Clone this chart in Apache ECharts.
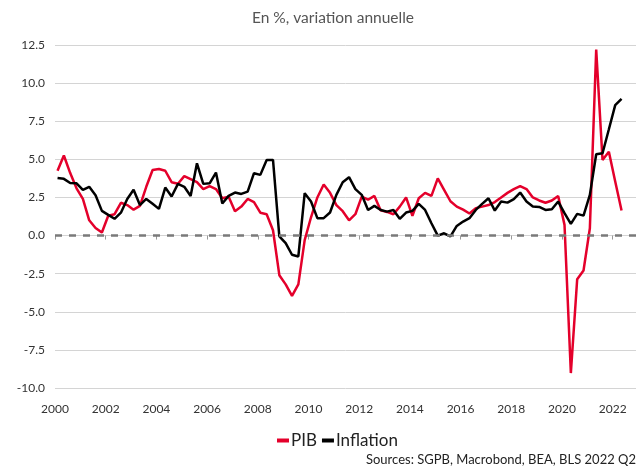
<!DOCTYPE html>
<html><head><meta charset="utf-8">
<script src="https://cdn.jsdelivr.net/npm/echarts@6/dist/echarts.min.js"></script>
<style>html,body{margin:0;padding:0;background:#fff}#c{width:639px;height:469px}</style>
</head><body><div id="c"></div>
<script>
// Quarterly periods 2000 T1 .. 2022 T2
const periods = [];
for (let y = 2000; y <= 2022; y++) {
  for (let q = 1; q <= 4; q++) {
    if (y === 2022 && q > 2) break;
    periods.push(y + ' T' + q);
  }
}
const pib = [
  4.25, 5.25, 4.1, 3.1, 2.4, 1.0, 0.5, 0.2, 1.3, 1.4, 2.15, 2.0,
  1.7, 1.95, 3.2, 4.3, 4.37, 4.25, 3.5, 3.4, 3.9, 3.7, 3.5, 3.05,
  3.25, 3.05, 2.45, 2.55, 1.6, 1.9, 2.4, 2.2, 1.5, 1.4, 0.35, -2.6,
  -3.2, -3.95, -3.2, -0.3, 1.2, 2.5, 3.35, 2.8, 2.0, 1.6, 1.0, 1.4,
  2.55, 2.35, 2.6, 1.65, 1.55, 1.4, 1.9, 2.5, 1.3, 2.45, 2.8, 2.6,
  3.75, 3.0, 2.25, 1.9, 1.7, 1.45, 1.8, 1.9, 2.0, 2.2, 2.5, 2.8,
  3.05, 3.25, 3.05, 2.5, 2.3, 2.15, 2.3, 2.6, 0.7, -9.02, -2.86, -2.29,
  0.48, 12.2, 4.96, 5.5, 3.54, 1.64
];
const inflation = [
  3.78, 3.72, 3.45, 3.43, 3.0, 3.2, 2.65, 1.62, 1.36, 1.1, 1.5, 2.4,
  3.0, 2.0, 2.4, 2.08, 1.75, 3.15, 2.56, 3.39, 3.2, 2.6, 4.74, 3.39,
  3.43, 4.13, 2.1, 2.6, 2.82, 2.73, 2.88, 4.09, 3.98, 4.96, 4.96, -0.05,
  -0.5, -1.26, -1.37, 2.78, 2.23, 1.14, 1.14, 1.51, 2.67, 3.5, 3.83, 3.05,
  2.67, 1.68, 1.95, 1.68, 1.57, 1.68, 1.1, 1.51, 1.62, 2.08, 1.68, 0.81,
  0.0, 0.15, -0.05, 0.63, 0.92, 1.14, 1.68, 2.08, 2.45, 1.64, 2.23, 2.16,
  2.39, 2.82, 2.23, 1.9, 1.88, 1.68, 1.73, 2.23, 1.47, 0.77, 1.42, 1.31,
  2.67, 5.33, 5.4, 6.97, 8.56, 8.96
];
const xTicks = [2000, 2002, 2004, 2006, 2008, 2010, 2012, 2014, 2016, 2018, 2020, 2022];
const seriesNames = ['PIB', 'Inflation'];
const titleText = 'En %, variation annuelle';
const sourceText = 'Sources: SGPB, Macrobond, BEA, BLS 2022 Q2';

function periodToX(p) {
  const [y, q] = p.split(' T');
  return Number(y) + (Number(q) - 1) / 4 + 0.1;
}
const FONT = 'Lato, "Noto Sans", sans-serif';
const chart = echarts.init(document.getElementById('c'), null, {renderer: 'canvas'});
chart.setOption({
  animation: false,
  backgroundColor: '#fff',
  textStyle: {fontFamily: FONT},
  grid: {left: 55, right: 3, top: 45, bottom: 81, containLabel: false},
  legend: {
    data: seriesNames,
    top: 427, left: 272,
    icon: 'rect', itemWidth: 12, itemHeight: 4, itemGap: 5,
    textStyle: {fontSize: 17, color: '#222', fontFamily: FONT, padding: [0, 0, 0, -3]}
  },
  graphic: [
    {type: 'text', x: 333, y: 18, style: {text: titleText, fontSize: 15.5, fill: '#555', fontFamily: FONT, align: 'center', verticalAlign: 'middle'}},
    {type: 'text', right: 3, top: 453, style: {text: sourceText, fontSize: 13, fill: '#222', fontFamily: FONT}}
  ],
  xAxis: {
    type: 'value', min: 2000, max: 2022.92, offset: 9,
    axisLine: {show: false},
    splitLine: {show: false},
    axisTick: {show: true, customValues: xTicks, length: 4, lineStyle: {color: '#999'}},
    axisLabel: {customValues: xTicks, formatter: v => String(v), color: '#333', fontSize: 12, margin: 6, fontFamily: FONT}
  },
  yAxis: {
    type: 'value', min: -10, max: 12.5, interval: 2.5,
    axisLine: {show: false}, axisTick: {show: false},
    axisLabel: {formatter: v => v.toFixed(1), color: '#333', fontSize: 12, margin: 10, fontFamily: FONT},
    splitLine: {lineStyle: {color: '#d4d4d4', width: 1}}
  },
  series: [
    {
      name: seriesNames[0], type: 'line', showSymbol: false, symbol: 'none',
      data: pib.map((v, i) => [periodToX(periods[i]), v]),
      lineStyle: {color: '#e4002b', width: 2.5}, itemStyle: {color: '#e4002b'},
      markLine: {
        silent: true, symbol: 'none', label: {show: false},
        lineStyle: {color: '#7a7a7a', type: [7, 7], width: 2.5},
        data: [{yAxis: 0}]
      },
      z: 3
    },
    {
      name: seriesNames[1], type: 'line', showSymbol: false, symbol: 'none',
      data: inflation.map((v, i) => [periodToX(periods[i]), v]),
      lineStyle: {color: '#000', width: 2.5}, itemStyle: {color: '#000'},
      z: 4
    }
  ]
});
</script>
</body></html>
